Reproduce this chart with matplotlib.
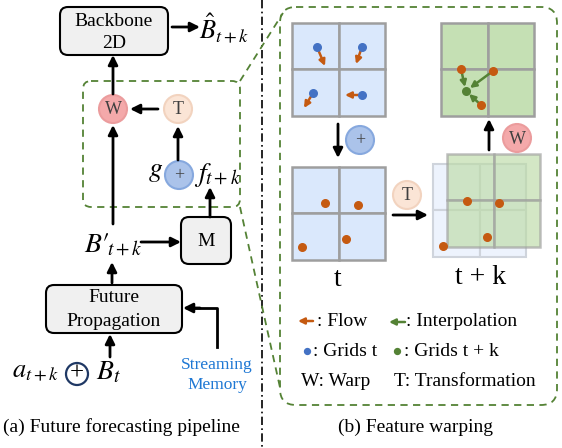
import matplotlib
matplotlib.use('Agg')
import matplotlib.pyplot as plt
from matplotlib.patches import Circle, FancyBboxPatch, Rectangle

plt.rcParams['font.family'] = ['Liberation Serif', 'DejaVu Serif']
plt.rcParams['mathtext.fontset'] = 'stix'

# flow field in the first grid: (start point, arrow tip)
flow_starts = [(317, 47), (362, 47), (313, 93), (362, 95)]
flow_ends = [(325, 66), (356, 64), (304, 108), (345, 95)]
# features at time t and after transformation
dots_t = [(325, 203), (358, 205), (302, 247), (346, 239)]
dots_tk = [(467, 201), (499, 203), (443, 246), (487, 237)]
# interpolation: neighbours -> target grid point
interp_src = [(461, 69), (493, 71), (481, 105)]
interp_dst = [(465, 87), (470, 88), (469, 94)]
interp_center = (466, 91)

ORANGE = '#c55a11'
BLUE = '#4472c4'
GREEN = '#548235'
GREY = '#9e9e9e'
FS = 14

fig = plt.figure(figsize=(5.62, 4.48), dpi=100)
ax = fig.add_axes([0, 0, 1, 1])
ax.set_xlim(0, 562)
ax.set_ylim(448, 0)
ax.axis('off')


def arrow(p0, p1, color='k', lw=2.0, ms=14):
    ax.annotate('', xy=p1, xytext=p0,
                arrowprops=dict(arrowstyle='-|>', color=color, lw=lw,
                                mutation_scale=ms, shrinkA=0, shrinkB=0))


def rbox(x0, y0, x1, y1, r=8, fc='#f0f0f0', ec='k', lw=1.5, ls='-'):
    ax.add_patch(FancyBboxPatch((x0, y0), x1 - x0, y1 - y0,
                                boxstyle='round,pad=0,rounding_size=%d' % r,
                                fc=fc, ec=ec, lw=lw, ls=ls))


def circ(xy, label, fc, ec, r=14):
    ax.add_patch(Circle(xy, r, fc=fc, ec=ec, lw=1.5, zorder=3))
    ax.text(xy[0], xy[1] + 1, label, ha='center', va='center', fontsize=13,
            color='#404040', zorder=4)


def grid(x0, y0, size, fc, ec=GREY, alpha=1.0, lw=1.8):
    h = size / 2
    for i in range(2):
        for j in range(2):
            ax.add_patch(Rectangle((x0 + i * h, y0 + j * h), h, h, fc=fc,
                                   ec=ec, lw=lw, alpha=alpha, zorder=2))


# ---------------- (a) left panel ----------------
rbox(60, 7, 168, 55)
ax.text(114, 21, 'Backbone', ha='center', va='center', fontsize=FS)
ax.text(114, 43, '2D', ha='center', va='center', fontsize=FS)
arrow((172, 27), (200, 27))
ax.text(199, 29, r'$\hat{B}_{t+k}$', ha='left', va='center', fontsize=19)

rbox(83, 81, 240, 207, r=8, fc='none', ec=GREEN, lw=1.3, ls=(0, (4, 3)))
circ((113, 109), 'W', '#f4a9aa', '#eb9c9d')
circ((178, 109), 'T', '#fbe5d6', '#f2d3bf')
circ((179, 175), '+', '#abc3ea', '#86a8de')
ax.text(156, 172, r'$g$', ha='center', va='center', fontsize=20)
ax.text(194, 175, r'$f_{t+k}$', ha='left', va='center', fontsize=20)
arrow((158, 109), (130, 109))
arrow((178, 160), (178, 126))
arrow((113, 94), (113, 55))
arrow((113, 224), (113, 125))
arrow((210, 217), (210, 187))

ax.text(84, 244, r'$B\prime_{\!t+k}$', ha='left', va='center', fontsize=20)
arrow((141, 242), (181, 242))
rbox(181, 217, 231, 264)
ax.text(206, 241, 'M', ha='center', va='center', fontsize=FS)

arrow((112, 283), (112, 262))
rbox(46, 285, 182, 333)
ax.text(114, 298, 'Future', ha='center', va='center', fontsize=FS)
ax.text(114, 321, 'Propagation', ha='center', va='center', fontsize=FS)
arrow((110, 357), (110, 334))

ax.text(12, 373, r'$a_{t+k}$', ha='left', va='center', fontsize=19)
ax.add_patch(Circle((77, 374), 11, fc='none', ec='#1f3864', lw=1.6))
ax.text(77, 374, '+', ha='center', va='center', fontsize=18)
ax.text(96, 373, r'$B_t$', ha='left', va='center', fontsize=20)

ax.plot([217, 217, 190], [347, 308, 308], color='k', lw=2)
arrow((200, 308), (183, 308))
ax.text(217, 365, 'Streaming', ha='center', va='center', fontsize=12.5,
        color='#1f78d4')
ax.text(217, 385, 'Memory', ha='center', va='center', fontsize=12.5,
        color='#1f78d4')
ax.text(121, 427, '(a) Future forecasting pipeline', ha='center',
        va='center', fontsize=FS)

# divider
ax.plot([262, 262], [0, 448], color='k', lw=1.2, dashes=[5, 2, 1, 2])

# zoom lines into panel (b)
ax.plot([240, 283], [81, 13], color=GREEN, lw=1.3, ls=(0, (4, 3)))
ax.plot([240, 281], [207, 392], color=GREEN, lw=1.3, ls=(0, (4, 3)))

# ---------------- (b) right panel ----------------
rbox(280, 7, 557, 405, r=16, fc='none', ec=GREEN, lw=1.3, ls=(0, (4, 3)))

# grid at t with flow
grid(292, 23, 93, '#dae8fc')
for (x0, y0), (x1, y1) in zip(flow_starts, flow_ends):
    arrow((x0, y0), (x1, y1), color=ORANGE, lw=1.8, ms=9)
    ax.scatter([x0], [y0], s=30, color=BLUE, zorder=5)

arrow((338, 124), (338, 158))
circ((360, 140), '+', '#abc3ea', '#86a8de')

grid(292, 167, 93, '#dae8fc')
ax.scatter([p[0] for p in dots_t], [p[1] for p in dots_t], s=30,
           color=ORANGE, zorder=5)
ax.text(338, 279, 't', ha='center', va='center', fontsize=20)

circ((407, 195), 'T', '#fbe5d6', '#f2d3bf')
arrow((393, 215), (428, 215))

grid(433, 164, 93, '#edf3fd', ec='#cfd4dc', lw=1.5)
grid(447, 154, 93, '#bcdba6', alpha=0.65)
ax.scatter([p[0] for p in dots_tk], [p[1] for p in dots_tk], s=30,
           color=ORANGE, zorder=5)
ax.text(481, 277, 't + k', ha='center', va='center', fontsize=20)

arrow((489, 150), (489, 119))
circ((517, 138), 'W', '#f4a9aa', '#eb9c9d')

grid(441, 23, 93, '#c5e0b4')
for (x0, y0), (x1, y1) in zip(interp_src, interp_dst):
    arrow((x0, y0), (x1, y1), color=GREEN, lw=1.8, ms=9)
    ax.scatter([x0], [y0], s=30, color=ORANGE, zorder=5)
ax.scatter([interp_center[0]], [interp_center[1]], s=30, color=GREEN,
           zorder=5)

# legend
arrow((313, 321), (298, 321), color=ORANGE, lw=1.8, ms=9)
ax.text(317, 321, ': Flow', ha='left', va='center', fontsize=FS)
arrow((405, 322), (389, 322), color=GREEN, lw=1.8, ms=9)
ax.text(406, 322, ': Interpolation', ha='left', va='center', fontsize=FS)
ax.scatter([307], [351], s=18, color=BLUE, zorder=5)
ax.text(313, 351, ': Grids t', ha='left', va='center', fontsize=FS)
ax.scatter([397], [351], s=18, color=GREEN, zorder=5)
ax.text(404, 351, ': Grids t + k', ha='left', va='center', fontsize=FS)
ax.text(301, 381, 'W: Warp', ha='left', va='center', fontsize=FS)
ax.text(394, 381, 'T: Transformation', ha='left', va='center', fontsize=FS)
ax.text(415, 427, '(b) Feature warping', ha='center', va='center',
        fontsize=FS)

fig.savefig('out.png', dpi=100)
